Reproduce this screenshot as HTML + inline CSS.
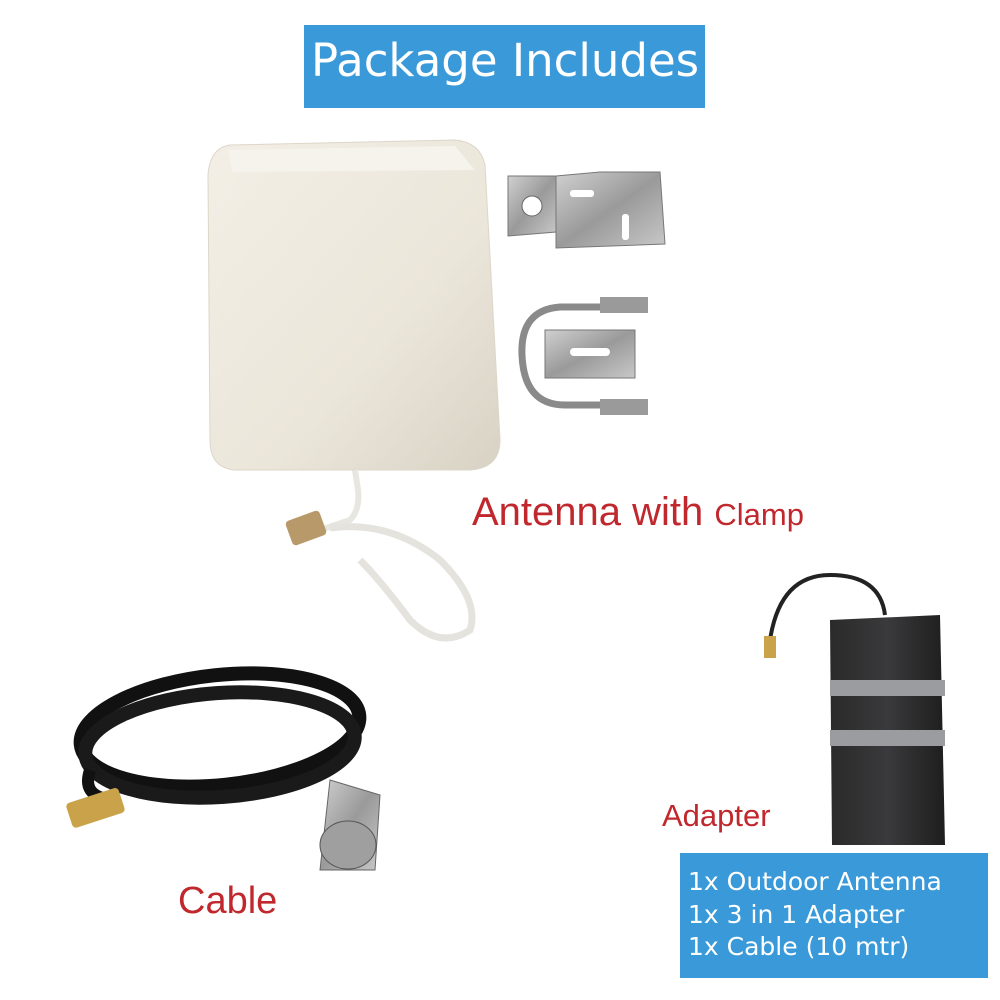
<!DOCTYPE html>
<html><head><meta charset="utf-8"><style>
body{margin:0;width:1000px;height:1000px;background:#fff;position:relative;overflow:hidden;font-family:"DejaVu Sans","Liberation Sans",sans-serif}
.t{position:absolute;white-space:nowrap}
</style></head><body>
<svg width="1000" height="1000" style="position:absolute;left:0;top:0">
<defs>
<linearGradient id="pan" x1="0" y1="0" x2="1" y2="1"><stop offset="0" stop-color="#f3efe6"/><stop offset="0.6" stop-color="#ebe6da"/><stop offset="1" stop-color="#d8d2c4"/></linearGradient>
<linearGradient id="met" x1="0" y1="0" x2="1" y2="1"><stop offset="0" stop-color="#d0d0d0"/><stop offset="0.5" stop-color="#9a9a9a"/><stop offset="1" stop-color="#c8c8c8"/></linearGradient>
<linearGradient id="pad" x1="0" y1="0" x2="1" y2="0"><stop offset="0" stop-color="#2a2a2a"/><stop offset="0.5" stop-color="#3a3a3c"/><stop offset="1" stop-color="#1e1e1e"/></linearGradient>
</defs>
<rect x="304" y="25" width="401" height="83" fill="#3a9ad9"/>
<path d="M230 145 L455 140 Q480 142 485 165 L500 440 Q500 468 470 470 L235 470 Q210 468 210 440 L208 175 Q210 148 230 145Z" fill="url(#pan)" stroke="#ddd6c8"/>
<path d="M228 150 L455 146 L475 170 L232 172Z" fill="#f6f3ec"/>
<path d="M355 470 L358 490 Q360 510 350 520 L320 530" stroke="#e8e6e0" stroke-width="6" fill="none"/>
<path d="M330 528 Q390 520 440 560 Q480 600 470 630 Q440 650 410 620 Q380 580 360 560" stroke="#e5e3dd" stroke-width="7" fill="none"/>
<rect x="288" y="515" width="36" height="26" rx="4" fill="#b89a6a" transform="rotate(-20 306 528)"/>
<path d="M508 176 L556 176 L556 232 L508 236Z" fill="url(#met)" stroke="#777"/>
<path d="M556 176 L600 172 L660 172 L665 244 L556 248Z" fill="url(#met)" stroke="#777"/>
<circle cx="532" cy="206" r="10" fill="#fff" stroke="#666"/>
<rect x="570" y="190" width="24" height="7" rx="3" fill="#fff"/>
<rect x="622" y="214" width="7" height="26" rx="3" fill="#fff"/>
<path d="M600 307 L560 307 Q520 310 522 355 Q524 405 565 405 L605 405" stroke="#8a8a8a" stroke-width="7" fill="none"/>
<rect x="600" y="297" width="48" height="16" fill="#9a9a9a"/>
<rect x="600" y="399" width="48" height="16" fill="#9a9a9a"/>
<rect x="545" y="330" width="90" height="48" fill="url(#met)" stroke="#777"/>
<rect x="570" y="348" width="40" height="8" rx="4" fill="#fff"/>
<ellipse cx="220" cy="730" rx="140" ry="55" stroke="#111" stroke-width="14" fill="none" transform="rotate(-6 220 730)"/>
<ellipse cx="220" cy="745" rx="135" ry="52" stroke="#1a1a1a" stroke-width="14" fill="none" transform="rotate(-4 220 745)"/>
<path d="M90 770 Q80 800 120 800" stroke="#111" stroke-width="12" fill="none"/>
<rect x="68" y="795" width="55" height="26" rx="4" fill="#c9a24a" transform="rotate(-18 95 808)"/>
<path d="M330 780 L380 795 L375 870 L320 870Z" fill="url(#met)" stroke="#666"/>
<ellipse cx="348" cy="845" rx="28" ry="24" fill="#9f9f9f" stroke="#555"/>
<path d="M770 640 Q780 575 830 575 Q880 575 885 615" stroke="#222" stroke-width="4" fill="none"/>
<rect x="764" y="636" width="12" height="22" fill="#c9a24a"/>
<path d="M830 620 L940 615 L945 845 L832 845Z" fill="url(#pad)"/>
<rect x="830" y="680" width="115" height="16" fill="#9a9c9f"/>
<rect x="830" y="730" width="115" height="16" fill="#9a9c9f"/>
<rect x="680" y="853" width="308" height="125" fill="#3a9ad9"/>
</svg>
<div class="t" style="left:311px;top:34px;font-size:45px;color:#fff">Package Includes</div>
<div class="t" style="left:472px;top:490px;font-size:40px;color:#c0282d;font-family:'Liberation Sans',sans-serif">Antenna with <span style="font-size:31px">Clamp</span></div>
<div class="t" style="left:178px;top:880px;font-size:38px;color:#c0282d;font-family:'Liberation Sans',sans-serif">Cable</div>
<div class="t" style="left:662px;top:798px;font-size:31px;color:#c0282d;font-family:'Liberation Sans',sans-serif">Adapter</div>
<div class="t" style="left:688px;top:866px;font-size:25px;line-height:32.5px;color:#fff">1x Outdoor Antenna<br>1x 3 in 1 Adapter<br>1x Cable (10 mtr)</div>
</body></html>
